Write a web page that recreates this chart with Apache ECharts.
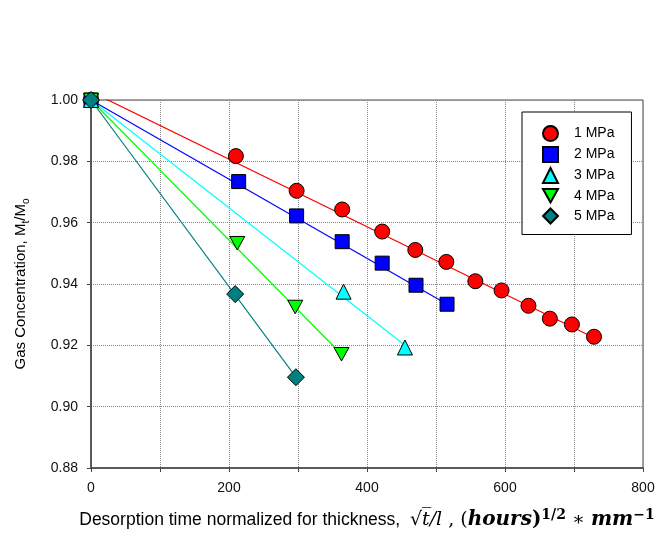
<!DOCTYPE html>
<html>
<head>
<meta charset="utf-8">
<script src="https://cdn.jsdelivr.net/npm/echarts/dist/echarts.min.js"></script>
<style>
  html, body { margin: 0; padding: 0; background: #fff; overflow: hidden; }
  #chart { width: 659px; height: 535px; }
</style>
</head>
<body>
<div id="chart"></div>
<script>
// measured points, x = sqrt(t)/l, y = Mt/Mo
const names = ["1 MPa", "2 MPa", "3 MPa", "4 MPa", "5 MPa"];

const x1 = [0, 210, 298, 364, 422, 470, 515, 557, 595, 634, 665, 697, 729];
const y1 = [1.0, 0.9817, 0.9704, 0.9643, 0.9571, 0.9511, 0.9472, 0.9409, 0.9379, 0.9329, 0.9287, 0.9268, 0.9228];
const x2 = [0, 214, 298, 364, 422, 471, 516];
const y2 = [1.0, 0.9734, 0.9622, 0.9538, 0.9468, 0.9396, 0.9334];
const x3 = [0, 366, 455];
const y3 = [1.0, 0.9375, 0.9193];
const x4 = [0, 212, 296, 363];
const y4 = [1.0, 0.9533, 0.9325, 0.9171];
const x5 = [0, 209, 297];
const y5 = [1.0, 0.9367, 0.9096];

// fitted straight lines (start, end)
const fitX1 = [0, 729], fitY1 = [1.0027, 0.9225];
const fitX2 = [0, 516], fitY2 = [1.0, 0.9334];
const fitX3 = [0, 455], fitY3 = [1.0, 0.9200];
const fitX4 = [0, 363], fitY4 = [1.0, 0.9171];
const fitX5 = [0, 297], fitY5 = [1.0, 0.9096];

const xTicks = [0, 200, 400, 600, 800];
const yTicks = [0.88, 0.90, 0.92, 0.94, 0.96, 0.98, 1.00];

const colors = ["#ff0000", "#0000ff", "#00ffff", "#00ff00", "#008080"];
const symbols = ["circle", "rect", "triangle", "path://M0,0L10,0L5,9Z", "diamond"];
const sizes = [15, 14, 15, 15, 17];

function pts(xs, ys) {
  return xs.map((x, i) => [x, ys[i]]);
}

const pointSets = [pts(x1, y1), pts(x2, y2), pts(x3, y3), pts(x4, y4), pts(x5, y5)];
const fitSets = [pts(fitX1, fitY1), pts(fitX2, fitY2), pts(fitX3, fitY3), pts(fitX4, fitY4), pts(fitX5, fitY5)];

const series = [];
fitSets.forEach((d, i) => {
  series.push({
    name: "fit " + names[i],
    type: "line",
    data: d,
    symbol: "none",
    clip: true,
    silent: true,
    z: 2,
    lineStyle: { color: colors[i], width: 1.2 }
  });
});
pointSets.forEach((d, i) => {
  series.push({
    name: names[i],
    type: "scatter",
    data: d,
    symbol: symbols[i],
    symbolSize: sizes[i],
    symbolKeepAspect: true,
    z: 3 + i,
    itemStyle: { color: colors[i], borderColor: "#000", borderWidth: 1, opacity: 1 }
  });
});

const chart = echarts.init(document.getElementById("chart"));

const font = "Liberation Sans";
const serif = "DejaVu Serif";

const option = {
  animation: false,
  backgroundColor: "#fff",
  grid: {
    left: 91, width: 552, top: 100, height: 375,
    show: true, borderColor: "#444", borderWidth: 1, backgroundColor: "transparent"
  },
  legend: {
    data: names,
    orient: "vertical",
    left: 522,
    top: 112,
    padding: [13, 17, 10, 20],
    itemWidth: 15,
    itemHeight: 15,
    itemGap: 4,
    symbolKeepAspect: true,
    backgroundColor: "#fff",
    borderColor: "#000",
    borderWidth: 1,
    textStyle: { fontFamily: font, fontSize: 14, color: "#000", padding: [0, 0, 0, 11] }
  },
  xAxis: {
    type: "value",
    min: xTicks[0],
    max: xTicks[xTicks.length - 1],
    interval: xTicks[1] - xTicks[0],
    name: "{a|Desorption time normalized for thickness,  }{m|√}{i|t̅/l}{m| , (}{b|hours}{p|)}{s|1/2}{m| ∗ }{b|mm}{s|−1}",
    nameLocation: "middle",
    nameGap: 40,
    nameTextStyle: {
      rich: {
        a: { fontFamily: font, fontSize: 17.5, color: "#000", lineHeight: 24 },
        m: { fontFamily: serif, fontSize: 19, color: "#000", lineHeight: 24 },
        i: { fontFamily: serif, fontSize: 19, fontStyle: "italic", color: "#000", lineHeight: 24 },
        b: { fontFamily: serif, fontSize: 20, fontStyle: "italic", fontWeight: "bold", color: "#000", lineHeight: 24 },
        p: { fontFamily: serif, fontSize: 20, fontWeight: "bold", color: "#000", lineHeight: 24 },
        s: { fontFamily: serif, fontSize: 14, fontWeight: "bold", color: "#000", verticalAlign: "top", lineHeight: 13 }
      }
    },
    axisLine: { show: true, lineStyle: { color: "#444", width: 1.5 } },
    axisTick: { show: true, length: 4, lineStyle: { color: "#444" } },
    minorTick: { show: true, splitNumber: 2, length: 4, lineStyle: { color: "#444" } },
    axisLabel: { fontFamily: font, fontSize: 14, color: "#111", margin: 13 },
    splitLine: { show: true, lineStyle: { type: "dotted", color: "#888", width: 1 } },
    minorSplitLine: { show: true, lineStyle: { type: "dotted", color: "#888", width: 1 } }
  },
  yAxis: {
    type: "value",
    min: yTicks[0],
    max: yTicks[yTicks.length - 1],
    interval: 0.02,
    name: "{a|Gas Concentration, M}{s|t}{a|/M}{s|o}",
    nameLocation: "middle",
    nameGap: 60,
    nameTextStyle: {
      rich: {
        a: { fontFamily: font, fontSize: 15, color: "#000", lineHeight: 20 },
        s: { fontFamily: font, fontSize: 10, color: "#000", verticalAlign: "bottom", lineHeight: 10 }
      }
    },
    axisLine: { show: true, lineStyle: { color: "#444", width: 1.5 } },
    axisTick: { show: true, length: 4, lineStyle: { color: "#444" } },
    axisLabel: {
      fontFamily: font, fontSize: 14, color: "#111", margin: 13,
      formatter: v => v.toFixed(2)
    },
    splitLine: { show: true, lineStyle: { type: "dotted", color: "#888", width: 1 } }
  },
  series: series
};

chart.setOption(option);
window.addEventListener("resize", () => chart.resize());
</script>
</body>
</html>
